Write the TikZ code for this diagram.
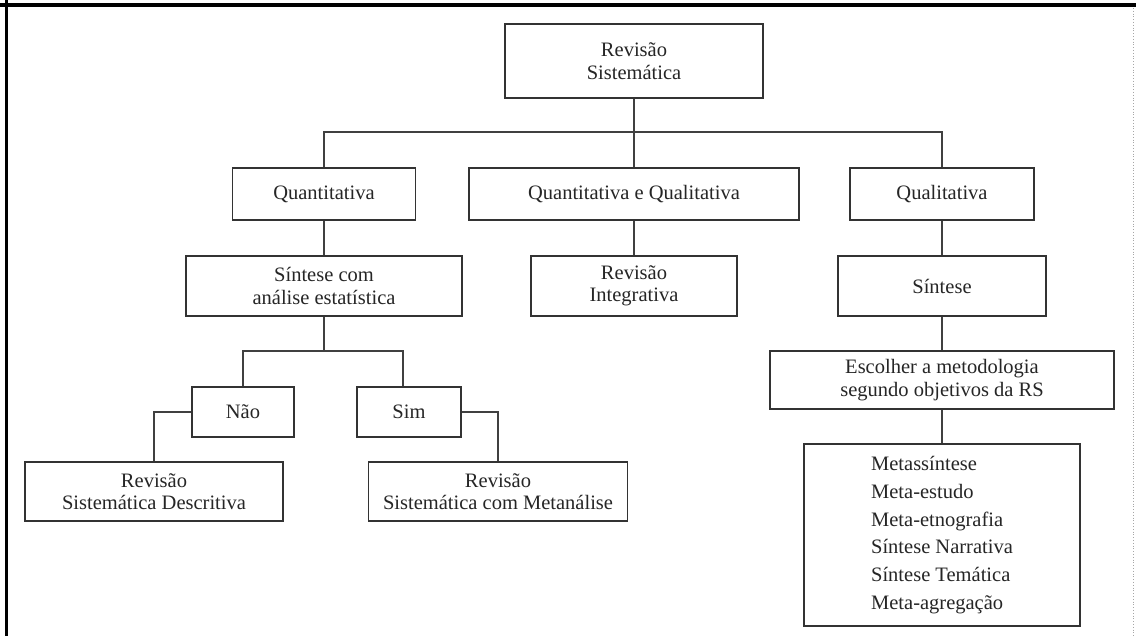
\documentclass[tikz,border=0pt]{standalone}
\usepackage{fontspec}
\setmainfont{Liberation Serif}
\begin{document}
\begin{tikzpicture}[x=1pt,y=-1pt,
  box/.style={draw=black!80, line width=1.6pt, fill=white, inner sep=0pt, align=center,
    font=\fontsize{20.5}{22.5}\selectfont, text=black!85},
  conn/.style={draw=black!75, line width=1.6pt}]
\useasboundingbox (0,0) rectangle (1136,636);
\fill[white] (0,0) rectangle (1136,636);
% frame
\draw[line width=4pt, black] (0,5) -- (1136,5);
\draw[line width=3pt, black] (6.5,0) -- (6.5,636);
\draw[line width=0.8pt, black!35, dotted] (1133,8) -- (1133,636);
% nodes
\node[box, minimum width=258, minimum height=74] (root) at (634,61) {Revisão\\Sistemática};
\node[box, minimum width=183, minimum height=52] (quant) at (324,194) {Quantitativa};
\node[box, minimum width=330, minimum height=52] (qeq) at (634,194) {Quantitativa e Qualitativa};
\node[box, minimum width=184, minimum height=52] (qual) at (942,194) {Qualitativa};
\node[box, minimum width=276, minimum height=60] (sca) at (324,286) {Síntese com\\análise estatística};
\node[box, minimum width=206, minimum height=60] (ri) at (634,286) {Revisão\\Integrativa};
\node[box, minimum width=208, minimum height=60] (sint) at (942,286) {Síntese};
\node[box, minimum width=102, minimum height=50] (nao) at (243,412) {Não};
\node[box, minimum width=104, minimum height=50] (sim) at (409,412) {Sim};
\node[box, minimum width=258, minimum height=59] (rsd) at (154,491.5) {Revisão\\Sistemática Descritiva};
\node[box, minimum width=259, minimum height=59] (rsm) at (498,491.5) {Revisão\\Sistemática com Metanálise};
\node[box, minimum width=344, minimum height=58] (esc) at (942,380) {Escolher a metodologia\\segundo objetivos da RS};
\node[box, minimum width=276, minimum height=182, align=left,
  font=\fontsize{20.5}{27.7}\selectfont] (list) at (942,535)
  {Metassíntese\\Meta-estudo\\Meta-etnografia\\Síntese Narrativa\\Síntese Temática\\Meta-agregação};
% junctions
\coordinate (j1) at (634,132);
\coordinate (j2) at (324,351);
% connectors
\draw[conn] (root.south) -- (qeq.north);
\draw[conn] (quant.north) |- (j1) -| (qual.north);
\draw[conn] (quant.south) -- (sca.north);
\draw[conn] (qeq.south) -- (ri.north);
\draw[conn] (qual.south) -- (sint.north);
\draw[conn] (sint.south) -- (esc.north);
\draw[conn] (esc.south) -- (list.north);
\draw[conn] (sca.south) -- (j2);
\draw[conn] (nao.north) |- (j2) -| ([xshift=-6pt]sim.north);
\draw[conn] (nao.west) -| (rsd.north);
\draw[conn] (sim.east) -| (rsm.north);
\end{tikzpicture}
\end{document}
